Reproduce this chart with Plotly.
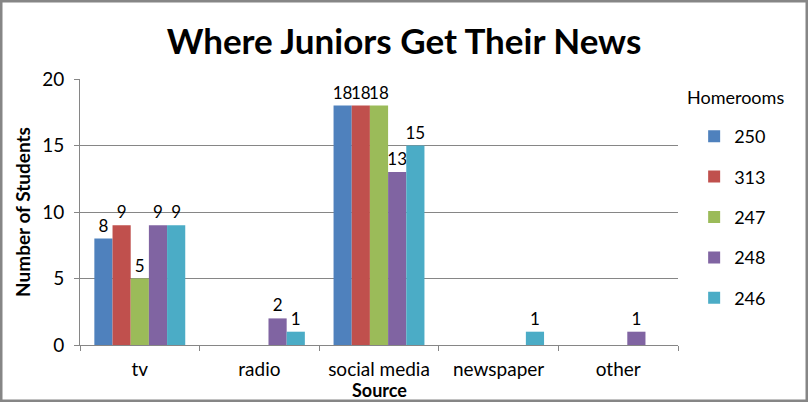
import plotly.graph_objects as go

categories = ["tv", "radio", "social media", "newspaper", "other"]
series_names = ["250", "313", "247", "248", "246"]
values_250 = [8, 0, 18, 0, 0]
values_313 = [9, 0, 18, 0, 0]
values_247 = [5, 0, 18, 0, 0]
values_248 = [9, 2, 13, 0, 1]
values_246 = [9, 1, 15, 1, 0]
colors = ["#4F81BD", "#C0504D", "#9BBB59", "#8064A2", "#4BACC6"]

all_values = [values_250, values_313, values_247, values_248, values_246]

FONT = "Lato"
pw, ph = 808 - 80 - 130, 402 - 79 - 57

fig = go.Figure()
for i, (name, vals) in enumerate(zip(series_names, all_values)):
    fig.add_trace(go.Bar(
        x=categories, y=vals, name=name,
        marker=dict(color=colors[i], line=dict(width=0)),
        text=[str(v) if v > 0 else "" for v in vals],
        textposition="outside",
        textfont=dict(family=FONT, size=17, color="#000000"),
        constraintext="none",
        cliponaxis=False,
        legendgroup="g%d" % i,
    ))

fig.update_layout(
    width=808, height=402,
    margin=dict(l=80, r=130, t=79, b=57),
    paper_bgcolor="white", plot_bgcolor="white",
    barmode="group", bargap=0.24, bargroupgap=0,
    font=dict(family=FONT, color="#000000"),
    title=dict(text="<b>Where Juniors Get Their News</b>", x=0.5, xanchor="center",
               y=0.895, yanchor="middle", yref="container",
               font=dict(family=FONT, size=35, color="#000000")),
    legend=dict(font=dict(family=FONT, size=18, color="#000000"),
                x=1.027, xanchor="left", y=(345 - 118) / ph, yanchor="top",
                tracegroupgap=14, bgcolor="rgba(0,0,0,0)"),
    xaxis=dict(
        tickfont=dict(family=FONT, size=19),
        showline=True, linecolor="#868686", linewidth=1,
        ticks="outside", ticklen=5, tickcolor="#868686", tickson="boundaries",
        ticklabelstandoff=7,
        showgrid=False,
    ),
    yaxis=dict(
        title=dict(text="<b>Number of Students</b>", font=dict(family=FONT, size=19), standoff=6),
        tickfont=dict(family=FONT, size=19),
        range=[0, 20], dtick=5,
        showline=True, linecolor="#868686", linewidth=1,
        ticks="outside", ticklen=5, tickcolor="#868686",
        ticklabelstandoff=6,
        showgrid=True, gridcolor="#868686", gridwidth=1,
        zeroline=False,
    ),
    annotations=[
        dict(text="<b>Source</b>", xref="paper", yref="paper", x=0.5, y=(345 - 390) / ph,
             xanchor="center", yanchor="middle", showarrow=False,
             font=dict(family=FONT, size=18, color="#000000")),
        dict(text="Homerooms", xref="paper", yref="paper", x=(685 - 80) / pw, y=(345 - 97) / ph,
             xanchor="left", yanchor="middle", showarrow=False,
             font=dict(family=FONT, size=18, color="#000000")),
    ],
)

# outer chart border
fig.add_shape(type="rect", xref="paper", yref="paper",
              x0=(1 - 80) / pw, x1=(807 - 80) / pw,
              y0=-(57 - 1) / ph, y1=1 + 78 / ph,
              line=dict(color="#868686", width=3), fillcolor="rgba(0,0,0,0)", layer="above")

fig.write_html("out.html", config={"displayModeBar": False},
               post_script="document.body.style.margin='0';document.body.style.overflow='hidden';")
